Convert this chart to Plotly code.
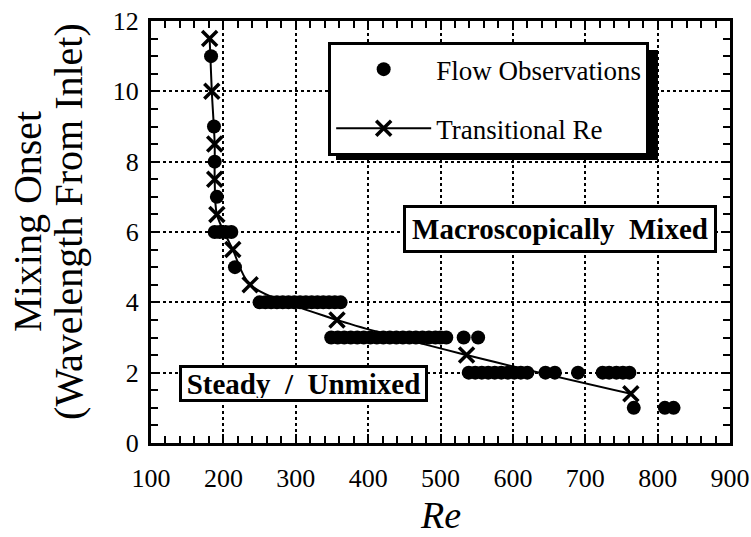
import plotly.graph_objects as go

# ---- data ----
flow_re = [183, 187, 188, 191,
           188, 195, 203, 211,
           216,
           250, 258, 266, 274, 282, 290, 298, 306, 314, 322, 330, 338, 346, 354, 362,
           349, 358, 367, 376, 385, 394, 403, 412, 421, 430, 439, 448, 457, 466, 475, 484, 493, 500, 508,
           532, 552,
           539, 548, 557, 566, 575, 584, 593, 602, 611, 620, 645, 658, 690, 724, 733, 743, 752, 761,
           767, 810, 822]
flow_onset = [11, 9, 8, 7,
              6, 6, 6, 6,
              5,
              4, 4, 4, 4, 4, 4, 4, 4, 4, 4, 4, 4, 4, 4, 4,
              3, 3, 3, 3, 3, 3, 3, 3, 3, 3, 3, 3, 3, 3, 3, 3, 3, 3, 3,
              3, 3,
              2, 2, 2, 2, 2, 2, 2, 2, 2, 2, 2, 2, 2, 2, 2, 2, 2, 2,
              1, 1, 1]

trans_re = [181, 184, 188, 188, 191, 213, 237, 357, 536, 763]
trans_onset = [11.5, 10, 8.5, 7.5, 6.5, 5.5, 4.5, 3.5, 2.5, 1.4]

x_ticks = [100, 200, 300, 400, 500, 600, 700, 800, 900]
y_ticks = [0, 2, 4, 6, 8, 10, 12]

SERIF = "Liberation Serif, Times New Roman, serif"

fig = go.Figure()
fig.add_trace(go.Scatter(
    x=trans_re, y=trans_onset, mode="lines+markers", name="Transitional Re",
    line=dict(color="black", width=2, shape="spline", smoothing=0.8),
    marker=dict(symbol="x-thin", size=15, color="black", line=dict(width=3.5, color="black")),
    legendrank=2, legendgroup="b",
))
fig.add_trace(go.Scatter(
    x=flow_re, y=flow_onset, mode="markers", name="Flow Observations",
    marker=dict(symbol="circle", size=14, color="black"),
    legendrank=1, legendgroup="a",
))

axis_common = dict(
    showline=True, linecolor="black", linewidth=3, mirror="allticks",
    ticks="inside", ticklen=9, tickwidth=2, tickcolor="black",
    showgrid=True, gridcolor="black", griddash="dot", gridwidth=2,
    zeroline=False, automargin=False,
    tickfont=dict(family=SERIF, size=26, color="black"),
)

fig.update_xaxes(
    range=[100, 900], tickvals=x_ticks, ticktext=[str(v) for v in x_ticks],
    minor=dict(dtick=20, ticks="inside", ticklen=7, tickwidth=2, tickcolor="black", showgrid=False),
    ticklabelstandoff=10,
    **axis_common,
)
fig.update_yaxes(
    range=[0, 12], tickvals=y_ticks, ticktext=[str(v) for v in y_ticks],
    minor=dict(dtick=0.5, ticks="inside", ticklen=7, tickwidth=2, tickcolor="black", showgrid=False),
    ticklabelstandoff=4,
    **axis_common,
)

# axis titles
fig.add_annotation(x=0.5, y=-0.1706, xref="paper", yref="paper", xanchor="center", yanchor="middle",
                   text="<i>Re</i>", showarrow=False,
                   font=dict(family=SERIF, size=38, color="black"))
fig.add_annotation(x=-0.2124, y=0.524, xref="paper", yref="paper", xanchor="center", yanchor="middle",
                   text="Mixing Onset", showarrow=False, textangle=-90,
                   font=dict(family=SERIF, size=40, color="black"))
fig.add_annotation(x=-0.1416, y=0.524, xref="paper", yref="paper", xanchor="center", yanchor="middle",
                   text="(Wavelength From Inlet)", showarrow=False, textangle=-90,
                   font=dict(family=SERIF, size=40, color="black"))

# region labels
fig.add_annotation(
    x=0.706, y=0.507, xref="paper", yref="paper", xanchor="center", yanchor="middle",
    text="<b>Macroscopically\u00a0\u00a0Mixed</b>", showarrow=False,
    font=dict(family=SERIF, size=29, color="black"), width=306, height=40,
    bgcolor="white", bordercolor="black", borderwidth=3, borderpad=1,
)
fig.add_annotation(
    x=0.263, y=0.141, xref="paper", yref="paper", xanchor="center", yanchor="middle",
    text="<b>Steady\u00a0\u00a0/\u00a0\u00a0Unmixed</b>", showarrow=False,
    font=dict(family=SERIF, size=29, color="black"), width=241, height=29,
    bgcolor="white", bordercolor="black", borderwidth=3, borderpad=1,
)

# legend drop shadow
fig.add_shape(type="rect", xref="paper", yref="paper",
              x0=0.3195, x1=0.8756, y0=0.6706, y1=0.931,
              fillcolor="black", line=dict(width=0), layer="above")

fig.update_layout(
    width=751, height=537,
    margin=dict(l=151, r=21, t=21, b=94),
    paper_bgcolor="white", plot_bgcolor="white",
    showlegend=True,
    legend=dict(
        x=0.306, y=0.95, xanchor="left", yanchor="top",
        bgcolor="white", bordercolor="black", borderwidth=3,
        font=dict(family=SERIF, size=27, color="black"),
        traceorder="grouped", tracegroupgap=21, itemwidth=95,
        entrywidth=325, entrywidthmode="pixels",
    ),
)

fig.write_html("out.html")
